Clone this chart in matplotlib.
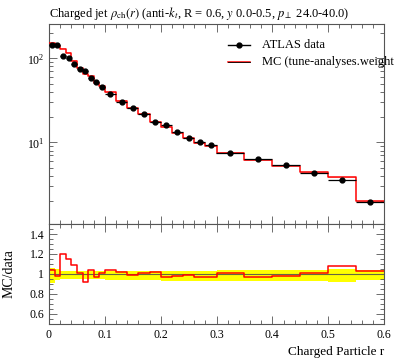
import numpy as np
import matplotlib
matplotlib.use("Agg")
import matplotlib.pyplot as plt
from matplotlib.ticker import MultipleLocator, FixedLocator, FuncFormatter, LogLocator, NullFormatter

plt.rcParams['font.family'] = ['Liberation Serif', 'DejaVu Serif']
plt.rcParams['mathtext.fontset'] = 'stix'

# ---- data ----
bin_edges = [0.0, 0.01, 0.02, 0.03, 0.04, 0.05, 0.06, 0.07, 0.08, 0.09, 0.10,
             0.12, 0.14, 0.16, 0.18, 0.20, 0.22, 0.24, 0.26, 0.28, 0.30,
             0.35, 0.40, 0.45, 0.50, 0.55, 0.60]
data_vals = [145, 143, 108, 101.7, 86, 75, 71, 58.8, 52.6, 45.9,
             38.0, 30.5, 25.8, 21.5, 17.3, 15.9, 13.3, 11.4, 10.1, 9.35,
             7.5, 6.35, 5.43, 4.37, 3.56, 1.94]
data_err_up = [0.065, 0.05, 0.035, 0.035, 0.035, 0.035, 0.035, 0.035, 0.035, 0.035,
               0.035, 0.035, 0.035, 0.035, 0.035, 0.035, 0.035, 0.035, 0.035, 0.035,
               0.04, 0.04, 0.04, 0.04, 0.05, 0.04]
data_err_dn = [0.085, 0.06, 0.05, 0.05, 0.05, 0.05, 0.05, 0.05, 0.05, 0.05,
               0.06, 0.06, 0.06, 0.06, 0.06, 0.07, 0.07, 0.07, 0.07, 0.07,
               0.07, 0.07, 0.07, 0.07, 0.08, 0.06]
ratio_vals = [1.04, 0.985, 1.20, 1.15, 1.09, 1.01, 0.92, 1.04, 0.975, 1.01,
              1.04, 1.02, 0.987, 1.007, 1.017, 0.967, 0.98, 0.987, 0.973, 0.973,
              1.01, 0.973, 0.977, 1.01, 1.077, 1.03]

title = r"Charged jet $\rho_{\rm ch}(r)$ (anti-$k_t$, R = 0.6, $y$ 0.0-0.5, $p_\perp$ 24.0-40.0)"
legend_data = "ATLAS data"
legend_mc = "MC (tune-analyses.weight"
xlabel = "Charged Particle r"
ylabel_ratio = "MC/data"

edges = np.array(bin_edges)
dv = np.array(data_vals)
eu = np.array(data_err_up)
ed = np.array(data_err_dn)
rv = np.array(ratio_vals)
mc = dv * rv
centers = 0.5 * (edges[:-1] + edges[1:])
halfw = 0.5 * np.diff(edges)

W, H = 397, 358
fig = plt.figure(figsize=(W/100, H/100), dpi=100)
L, R = 49/W, 384/W
ax = fig.add_axes([L, 1-224/H, R-L, 200/H])
axr = fig.add_axes([L, 1-324/H, R-L, 100/H], sharex=ax)

spine_c = '#555555'
for a in (ax, axr):
    for s in a.spines.values():
        s.set_color(spine_c)
        s.set_linewidth(0.8)
    a.tick_params(which='both', direction='in', top=True, right=True, colors=spine_c,
                  labelcolor='black', labelsize=8.5)
    a.tick_params(which='major', length=6, width=0.6)
    a.tick_params(which='minor', length=3, width=0.6)

def step_xy(vals):
    x = np.repeat(edges, 2)[1:-1]
    y = np.repeat(vals, 2)
    return x, y

# main panel
ax.set_yscale('log')
mx, my = step_xy(mc)
ax.fill_between(mx, my*0.985, my*1.015, color='#ff9090', alpha=0.6, lw=0)
ax.plot(mx, my, color='red', lw=1.1, zorder=3)
ax.errorbar(centers, dv, xerr=halfw, yerr=[dv*ed*0.5, dv*eu*0.5], fmt='o', color='black',
            ms=3.5, lw=0.9, capsize=0, zorder=4)
ax.set_xlim(0, 0.6)
ax.set_ylim(1.07, 256)
ax.yaxis.set_major_locator(LogLocator(base=10, numticks=10))
ax.yaxis.set_minor_locator(LogLocator(base=10, subs=np.arange(2, 10), numticks=10))
ax.yaxis.set_minor_formatter(NullFormatter())
ax.xaxis.set_major_locator(MultipleLocator(0.1))
ax.xaxis.set_minor_locator(MultipleLocator(0.02))
plt.setp(ax.get_xticklabels(), visible=False)
ax.set_title(title, loc='left', fontsize=9, pad=5)

# legend (manual)
ax.plot([0.535, 0.6], [0.897, 0.897], transform=ax.transAxes, color='black', lw=1)
ax.plot([0.5675], [0.897], 'o', transform=ax.transAxes, color='black', ms=3.5)
ax.text(0.635, 0.897, legend_data, transform=ax.transAxes, va='center', ha='left', fontsize=9)
ax.plot([0.535, 0.6], [0.812, 0.812], transform=ax.transAxes, color='red', lw=1.1)
ax.plot([0.535, 0.6], [0.812, 0.812], transform=ax.transAxes, color='black', lw=0.6)
ax.text(0.635, 0.812, legend_mc, transform=ax.transAxes, va='center', ha='left',
        fontsize=9)

# ratio panel
bx, blo = step_xy(1 - ed)
_, bhi = step_xy(1 + eu)
axr.fill_between(bx, blo, bhi, color='yellow', lw=0)
axr.axhline(1.0, color='#666644', lw=0.8)
rx, ry = step_xy(rv)
axr.plot(rx, ry, color='red', lw=1.1)
axr.set_ylim(0.5, 1.5)
axr.yaxis.set_major_locator(FixedLocator([0.6, 0.8, 1.0, 1.2, 1.4]))
axr.yaxis.set_minor_locator(MultipleLocator(0.05))
axr.yaxis.set_major_formatter(FuncFormatter(lambda v, p: ('%g' % round(v, 2))))
axr.xaxis.set_major_formatter(FuncFormatter(lambda v, p: ('%g' % round(v, 2))))
axr.set_ylabel(ylabel_ratio, fontsize=10)
axr.yaxis.set_label_coords(-0.1, 0.5)
axr.set_xlabel(xlabel, fontsize=9.5, loc='right')

fig.savefig('out.png', dpi=100)
